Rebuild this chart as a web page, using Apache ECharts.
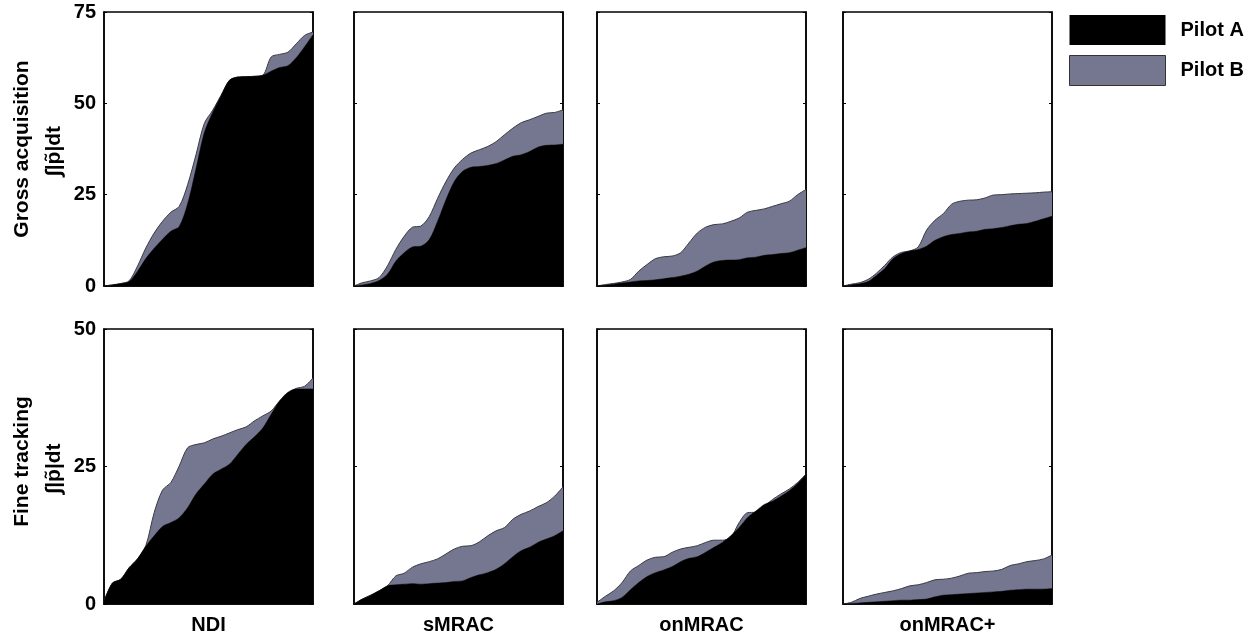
<!DOCTYPE html>
<html><head><meta charset="utf-8">
<script src="https://cdn.jsdelivr.net/npm/echarts@6/dist/echarts.min.js"></script>
<style>html,body{margin:0;padding:0;background:#fff;}#c{width:1259px;height:636px;}</style>
</head><body><div id="c"></div>
<script>
// normalised time samples (0..100 %)
const t = [0,4,8,12,16,20,24,28,32,36,40,44,48,52,56,60,64,68,72,76,80,84,88,92,96,100];
const controllers = ['NDI','sMRAC','onMRAC','onMRAC+'];
const rowTitles = ['Gross acquisition','Fine tracking'];
const rowMax = [75, 50];
const yTicks = [0,25,50,75];

// Gross acquisition
const grossA_NDI    = [0,0.3,0.6,1.2,4,7.5,10.3,12.8,15,16.3,22.5,32,42,47.5,52,56.3,57.2,57.3,57.4,57.7,58.8,59.8,60.3,62.5,65.5,68.8];
const grossB_NDI    = [0,0.3,0.7,1.4,5.4,10.4,14.5,17.7,20.2,21.8,27.7,35.9,44.5,48.1,52.2,56.3,57.2,57.3,57.4,57.7,62.7,63.4,64,66.3,68.6,69.5];
const grossA_sMRAC  = [0,0.3,0.7,1.5,3.2,6.8,9.1,10.7,10.9,12.7,17.7,23.6,28.6,31.4,32.5,32.7,33,33.5,34.5,35.5,35.9,36.8,38,38.5,38.6,38.8];
const grossB_sMRAC  = [0,0.9,1.4,2.3,5.5,10,13.6,16.1,16.4,19,24,28.6,32.3,34.7,36.4,37.3,38.2,39.5,41.4,43.2,44.7,45.5,46.4,47.3,47.5,48.2];
const grossA_onMRAC = [0,0.2,0.5,0.8,1.1,1.4,1.5,1.7,2,2.3,2.7,3.2,4.1,5.5,6.6,7,7.1,7.2,7.7,7.9,8.4,8.6,8.9,9.1,9.8,10.5];
const grossB_onMRAC = [0,0.4,0.7,1.1,1.8,4.1,5.9,7.5,8,8.2,9.1,11.8,14.5,16.1,16.8,17,17.7,18.6,20.2,20.7,21.1,21.8,22.5,23.2,25,26.4];
const grossA_onMRACp= [0,0.3,0.6,1.2,2.9,4.8,7.5,8.9,9.6,10,10.9,12.5,13.5,14.1,14.4,14.8,15,15.5,15.7,16,16.5,16.9,17.1,17.7,18.4,19.1];
const grossB_onMRACp= [0,0.5,0.9,1.8,3.5,5.7,8,9.2,9.6,10.7,15.3,18,19.8,22.4,23.2,23.5,23.6,24.1,24.9,25,25.2,25.3,25.4,25.5,25.7,25.8];

// Fine tracking
const fineA_NDI     = [0.5,3.8,4.5,6.6,8.2,10.5,12.4,14.1,14.8,15.7,17.5,20,21.8,23.6,24.5,25.4,27.2,29,30.4,32,34.5,36.9,38.5,39.1,39.1,39.1];
const fineB_NDI     = [0.5,3.8,4.5,6.6,8.2,10.6,16.6,20.7,22.1,25.1,28.4,29,29.3,30,30.5,31.1,31.7,32.2,33.3,34.2,35.1,36.9,38.3,39.2,39.6,41.1];
const fineA_sMRAC   = [0,0.9,1.6,2.4,3.3,3.5,3.6,3.7,3.6,3.7,3.8,3.9,4.1,4.2,4.8,5.3,5.7,6.3,7.3,8.6,9.7,10.3,11.2,11.8,12.4,13.3];
const fineB_sMRAC   = [0,0.9,1.6,2.4,3.3,5.1,5.6,6.7,7.3,7.7,8.2,9.1,10,10.5,10.6,11.3,12.4,13.3,13.9,15.4,16.3,16.9,17.7,18.4,19.6,21.3];
const fineA_onMRAC  = [0,0.4,0.6,1.2,2.6,3.9,5,5.7,6.2,6.8,7.7,8.3,8.6,9.4,10.3,11.2,12.4,13.9,15.7,16.9,18.1,18.7,19.6,20.6,21.9,23.6];
const fineB_onMRAC  = [0.3,1.4,2.4,3.9,6,7,8,8.5,8.6,9.4,10,10.3,10.6,11.2,11.6,11.6,12.1,14.8,16.6,16.7,17.8,19,20,20.9,22.1,23.6];
const fineA_onMRACp = [0,0.1,0.2,0.3,0.4,0.5,0.6,0.7,0.7,0.8,0.9,1.3,1.6,1.7,1.8,1.9,2,2.1,2.2,2.3,2.5,2.6,2.7,2.7,2.7,2.8];
const fineB_onMRACp = [0,0.3,1,1.4,1.8,2.1,2.4,2.8,3.3,3.5,3.9,4.4,4.5,4.7,5.1,5.6,5.7,5.9,6,6.3,7,7.3,7.7,7.9,8.2,8.9];

const pilotA = [[grossA_NDI,grossA_sMRAC,grossA_onMRAC,grossA_onMRACp],[fineA_NDI,fineA_sMRAC,fineA_onMRAC,fineA_onMRACp]];
const pilotB = [[grossB_NDI,grossB_sMRAC,grossB_onMRAC,grossB_onMRACp],[fineB_NDI,fineB_sMRAC,fineB_onMRAC,fineB_onMRACp]];

const colA = '#000000', colB = '#75768f';
const FONT = 'Liberation Sans, Arial, Helvetica, sans-serif';
const lefts = [104, 354, 597, 843], W = 209;
const tops = [12, 329], Hs = [274, 275];

const grid = [], xAxis = [], yAxis = [], series = [];
for (let r = 0; r < 2; r++) {
  for (let c = 0; c < 4; c++) {
    const gi = grid.length;
    grid.push({left: lefts[c], top: tops[r], width: W, height: Hs[r], show: true,
      borderColor: '#000', borderWidth: 1.5, backgroundColor: '#fff', containLabel: false,
      outerBoundsMode: 'none'});
    xAxis.push({type: 'category', gridIndex: gi, data: t, boundaryGap: false,
      axisLine: {show: true, lineStyle: {color: '#000', width: 1.5}},
      axisTick: {show: false}, axisLabel: {show: false}, splitLine: {show: false},
      name: r === 1 ? controllers[c] : '', nameLocation: 'middle', nameGap: 11,
      nameTextStyle: {fontFamily: FONT, fontWeight: 'bold', fontSize: 20, color: '#000'}});
    const yl = yAxis.length;
    yAxis.push({type: 'value', gridIndex: gi, min: 0, max: rowMax[r], interval: 25, position: 'left',
      axisLine: {show: true, lineStyle: {color: '#000', width: 1.5}},
      axisTick: {show: true, inside: true, length: 3, lineStyle: {color: '#000'}},
      axisLabel: {show: c === 0, fontFamily: FONT, fontWeight: 'bold', fontSize: 20, color: '#000', margin: 8},
      splitLine: {show: false}});
    yAxis.push({type: 'value', gridIndex: gi, min: 0, max: rowMax[r], interval: 25, position: 'right',
      axisLine: {show: true, lineStyle: {color: '#000', width: 1.5}},
      axisTick: {show: true, inside: true, length: 3, lineStyle: {color: '#000'}},
      axisLabel: {show: false}, splitLine: {show: false}});
    series.push({name: 'Pilot B', type: 'line', xAxisIndex: gi, yAxisIndex: yl,
      data: pilotB[r][c], smooth: 0.3, showSymbol: false, symbol: 'none',
      itemStyle: {color: colB, borderColor: '#333'},
      lineStyle: {color: '#3a3a44', width: 1}, areaStyle: {color: colB, opacity: 1}, z: 2, silent: true});
    series.push({name: 'Pilot A', type: 'line', xAxisIndex: gi, yAxisIndex: yl,
      data: pilotA[r][c], smooth: 0.3, showSymbol: false, symbol: 'none',
      itemStyle: {color: colA},
      lineStyle: {color: '#000', width: 0.5}, areaStyle: {color: colA, opacity: 1}, z: 3, silent: true});
  }
}

const graphic = [];
const rowCenters = [tops[0] + Hs[0] / 2, tops[1] + Hs[1] / 2];
for (let r = 0; r < 2; r++) {
  graphic.push({type: 'text', x: 22, y: rowCenters[r] + (r === 1 ? -5 : 0), rotation: Math.PI / 2,
    style: {text: rowTitles[r], font: 'bold 21px ' + FONT, fill: '#000', textAlign: 'center', textVerticalAlign: 'middle'}});
  graphic.push({type: 'text', x: 54, y: rowCenters[r] + 2, rotation: Math.PI / 2,
    style: {text: '\u222B|p\u0303|dt', font: 'bold 21px ' + FONT, fill: '#000', textAlign: 'center', textVerticalAlign: 'middle'}});
}

const chart = echarts.init(document.getElementById('c'), null, {renderer: 'canvas'});
chart.setOption({
  animation: false,
  backgroundColor: '#fff',
  legend: {
    orient: 'vertical', left: 1069, top: 15, itemWidth: 96, itemHeight: 30, itemGap: 10, padding: 0,
    icon: 'rect',
    data: [{name: 'Pilot A', itemStyle: {color: colA}},
           {name: 'Pilot B', itemStyle: {color: colB, borderColor: '#333', borderWidth: 1}}],
    textStyle: {fontFamily: FONT, fontWeight: 'bold', fontSize: 20, color: '#000', padding: [0, 0, 0, 10]},
    selectedMode: false
  },
  grid, xAxis, yAxis, series, graphic
});
</script></body></html>
